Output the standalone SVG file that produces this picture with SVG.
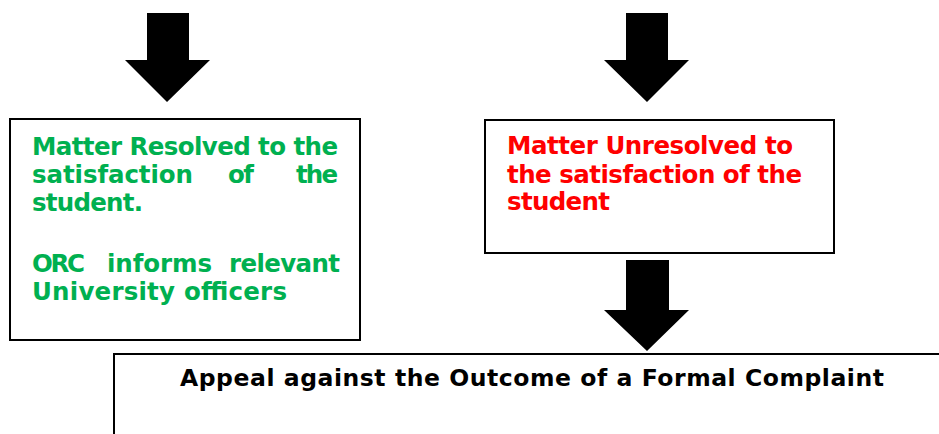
<svg xmlns="http://www.w3.org/2000/svg" width="939" height="434" viewBox="0 0 939 434">
<style>
.box{fill:#fff;stroke:#000;stroke-width:2}
.arrow{fill:#000}
text{font-family:"DejaVu Sans","Liberation Sans",sans-serif;font-weight:bold}
.g{fill:#00B050;font-size:24.5px}
.r{fill:#FF0000;font-size:24.5px}
.k{fill:#000;font-size:23.5px}
</style>
<rect width="939" height="434" fill="#fff"/>
<g id="connectors">
<polygon class="arrow" points="147,13 189,13 189,60 210,60 167,102 125,60 147,60"/>
<polygon class="arrow" points="626,13 668,13 668,60 689,60 647,102 604,60 626,60"/>
<polygon class="arrow" points="626,260 669,260 669,310 689,310 647,351 604,310 626,310"/>
</g>
<g id="resolved">
<rect class="box" x="10" y="119" width="350" height="221"/>
<text class="g" x="32" y="155" textLength="306" lengthAdjust="spacing">Matter Resolved to the</text>
<text class="g" x="32" y="183" textLength="161" lengthAdjust="spacing">satisfaction</text>
<text class="g" x="228" y="183" textLength="26" lengthAdjust="spacing">of</text>
<text class="g" x="296" y="183" textLength="42" lengthAdjust="spacing">the</text>
<text class="g" x="32" y="211" textLength="111" lengthAdjust="spacing">student.</text>
<text class="g" x="32" y="272" textLength="53" lengthAdjust="spacing">ORC</text>
<text class="g" x="107" y="272" textLength="105" lengthAdjust="spacing">informs</text>
<text class="g" x="229" y="272" textLength="111" lengthAdjust="spacing">relevant</text>
<text class="g" x="32" y="300" textLength="255" lengthAdjust="spacing">University officers</text>
</g>
<g id="unresolved">
<rect class="box" x="485" y="120" width="349" height="133"/>
<text class="r" x="507" y="154" textLength="286" lengthAdjust="spacing">Matter Unresolved to</text>
<text class="r" x="507" y="183" textLength="295" lengthAdjust="spacing">the satisfaction of the</text>
<text class="r" x="507" y="210" textLength="103" lengthAdjust="spacing">student</text>
</g>
<g id="appeal">
<rect class="box" x="114" y="354" width="840" height="100"/>
<text class="k" x="180" y="386" textLength="704" lengthAdjust="spacing">Appeal against the Outcome of a Formal Complaint</text>
</g>
</svg>
